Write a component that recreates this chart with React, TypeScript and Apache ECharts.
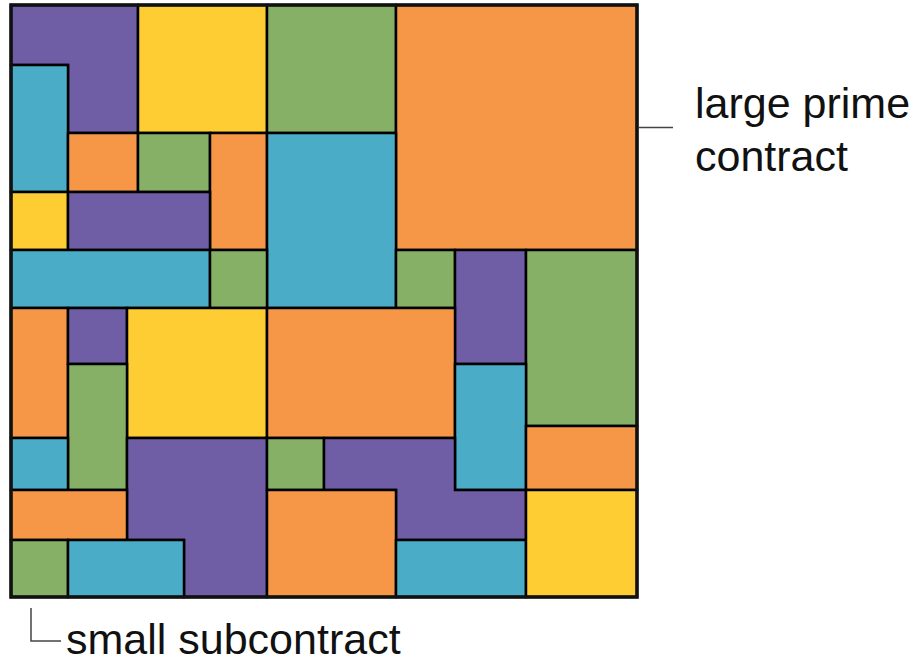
import React, { useEffect, useRef } from "react";
import * as echarts from "echarts";

// Edges of the mosaic (in chart units), left→right and top→bottom
const xEdges = [0, 57, 116, 127, 173, 199, 256, 313, 385, 444, 515, 626];
const yEdges = [0, 60, 128, 187, 245, 303, 359, 421, 433, 485, 535, 592];

const palette: Record<string, string> = {
  purple: "#6F5EA6",
  yellow: "#FDCD33",
  green: "#85B066",
  orange: "#F69748",
  teal: "#4AACC6",
};

// Shape colours and outlines (vertex = [xEdge index, yEdge index])
const shapeColors = [
  "purple", "yellow", "green", "orange", "teal", "orange", "green", "orange",
  "teal", "yellow", "purple", "teal", "green", "green", "purple", "green",
  "orange", "purple", "yellow", "orange", "green", "teal", "orange", "teal",
  "purple", "green", "purple", "orange", "orange", "green", "teal", "teal",
  "yellow",
];

const r = (x0: number, y0: number, x1: number, y1: number) => [
  [x0, y0], [x1, y0], [x1, y1], [x0, y1],
];

const shapeOutlines: number[][][] = [
  [[0, 0], [3, 0], [3, 2], [1, 2], [1, 1], [0, 1]],
  r(3, 0, 6, 2),
  r(6, 0, 8, 2),
  r(8, 0, 11, 4),
  r(0, 1, 1, 3),
  r(1, 2, 3, 3),
  r(3, 2, 5, 3),
  r(5, 2, 6, 4),
  r(6, 2, 8, 5),
  r(0, 3, 1, 4),
  r(1, 3, 5, 4),
  r(0, 4, 5, 5),
  r(5, 4, 6, 5),
  r(8, 4, 9, 5),
  r(9, 4, 10, 6),
  r(10, 4, 11, 7),
  r(0, 5, 1, 8),
  r(1, 5, 2, 6),
  r(2, 5, 6, 8),
  r(6, 5, 9, 8),
  r(1, 6, 2, 9),
  r(9, 6, 10, 9),
  r(10, 7, 11, 9),
  r(0, 8, 1, 9),
  [[2, 8], [6, 8], [6, 11], [4, 11], [4, 10], [2, 10]],
  r(6, 8, 7, 9),
  [[7, 8], [9, 8], [9, 9], [10, 9], [10, 10], [8, 10], [8, 9], [7, 9]],
  r(6, 9, 8, 11),
  r(0, 9, 2, 10),
  r(0, 10, 1, 11),
  r(1, 10, 4, 11),
  r(8, 10, 10, 11),
  r(10, 9, 11, 11),
];

const labelLarge = ["large prime", "contract"];
const labelSmall = "small subcontract";

export default function App() {
  const ref = useRef<HTMLDivElement>(null);
  useEffect(() => {
    if (!ref.current) return;
    const chart = echarts.init(ref.current, undefined, { renderer: "svg" });
    const font = "Liberation Sans, Arial, sans-serif";
    chart.setOption({
      animation: false,
      backgroundColor: "#ffffff",
      grid: { left: 11, top: 5, width: 626, height: 592 },
      xAxis: { type: "value", min: 0, max: 626, show: false },
      yAxis: { type: "value", min: 0, max: 592, inverse: true, show: false },
      series: [
        {
          type: "custom",
          coordinateSystem: "cartesian2d",
          data: shapeOutlines.map((_, i) => [i]),
          renderItem: (params: any, api: any) => {
            const i = params.dataIndex;
            const pts = shapeOutlines[i].map(([xi, yi]) =>
              api.coord([xEdges[xi], yEdges[yi]])
            );
            return {
              type: "polygon",
              shape: { points: pts },
              style: {
                fill: palette[shapeColors[i]],
                stroke: "#000000",
                lineWidth: 2.5,
                lineJoin: "miter",
              },
            };
          },
        },
        {
          type: "custom",
          coordinateSystem: "cartesian2d",
          data: [[0]],
          z: 5,
          renderItem: (_p: any, api: any) => {
            const a = api.coord([xEdges[0], yEdges[0]]);
            const b = api.coord([xEdges[xEdges.length - 1], yEdges[yEdges.length - 1]]);
            return {
              type: "rect",
              shape: { x: a[0], y: a[1], width: b[0] - a[0], height: b[1] - a[1] },
              style: { fill: "none", stroke: "#111111", lineWidth: 3.5 },
            };
          },
        },
      ],
      graphic: [
        {
          type: "line",
          shape: { x1: 639, y1: 127.5, x2: 673, y2: 127.5 },
          style: { stroke: "#444444", lineWidth: 1.5 },
        },
        {
          type: "polyline",
          shape: { points: [[31, 608], [31, 641], [61, 641]] },
          style: { stroke: "#444444", lineWidth: 1.5, fill: "none" },
        },
        {
          type: "text",
          x: 695,
          y: 103,
          style: {
            text: labelLarge[0],
            font: `43px ${font}`,
            fill: "#111111",
            verticalAlign: "middle",
          },
        },
        {
          type: "text",
          x: 695,
          y: 156,
          style: {
            text: labelLarge[1],
            font: `43px ${font}`,
            fill: "#111111",
            verticalAlign: "middle",
          },
        },
        {
          type: "text",
          x: 66,
          y: 639,
          style: {
            text: labelSmall,
            font: `43px ${font}`,
            fill: "#111111",
            verticalAlign: "middle",
          },
        },
      ],
    });
    return () => chart.dispose();
  }, []);
  return (
    <div
      ref={ref}
      style={{ position: "absolute", left: 0, top: 0, width: 915, height: 664 }}
    />
  );
}
